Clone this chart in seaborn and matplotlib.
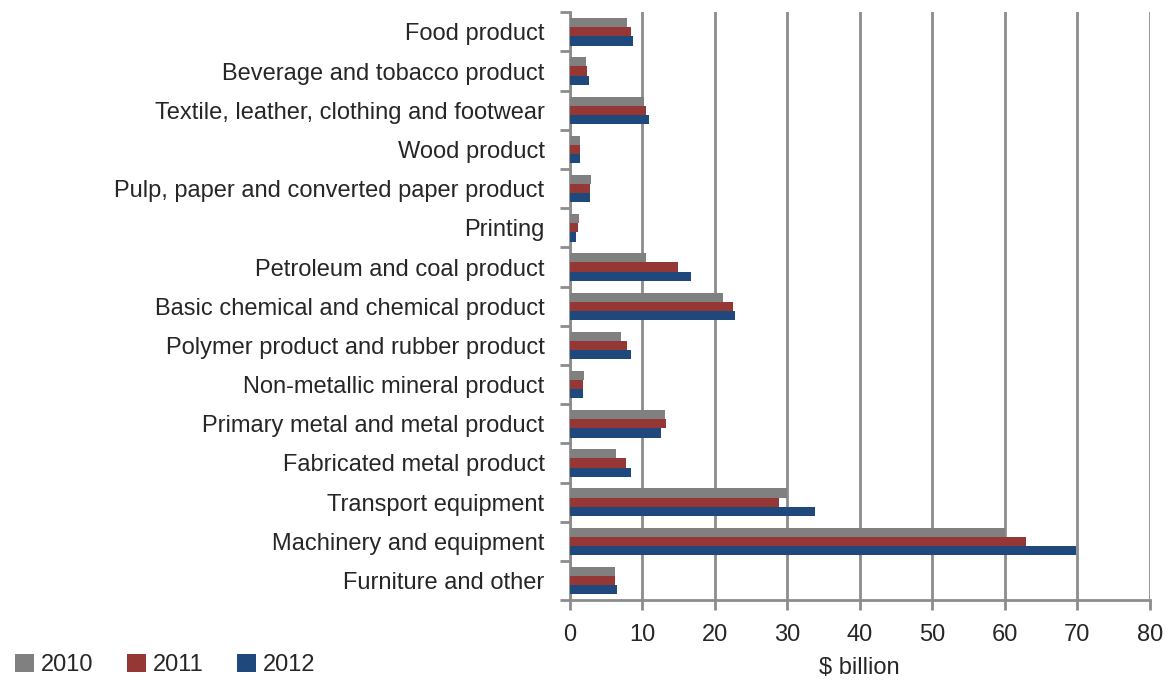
import numpy as np
import pandas as pd
import matplotlib
matplotlib.use("Agg")
import matplotlib.pyplot as plt
import seaborn as sns

categories = [
    "Food product", "Beverage and tobacco product",
    "Textile, leather, clothing and footwear", "Wood product",
    "Pulp, paper and converted paper product", "Printing",
    "Petroleum and coal product", "Basic chemical and chemical product",
    "Polymer product and rubber product", "Non-metallic mineral product",
    "Primary metal and metal product", "Fabricated metal product",
    "Transport equipment", "Machinery and equipment", "Furniture and other",
]
years = ["2010", "2011", "2012"]
v2010 = [7.9, 2.2, 10.2, 1.4, 3.0, 1.3, 10.6, 21.1, 7.1, 2.0, 13.2, 6.4, 30.0, 60.0, 6.3]
v2011 = [8.4, 2.4, 10.5, 1.4, 2.8, 1.1, 15.0, 22.5, 7.9, 1.8, 13.3, 7.8, 28.9, 63.0, 6.3]
v2012 = [8.7, 2.7, 11.0, 1.4, 2.8, 0.9, 16.8, 22.8, 8.4, 1.9, 12.6, 8.5, 33.9, 69.8, 6.6]
colors = ["#808080", "#953735", "#1F497D"]

df = pd.DataFrame({"category": categories * 3,
                   "year": np.repeat(years, len(categories)),
                   "value": v2010 + v2011 + v2012})

sns.set_style("white")
plt.rcParams["font.family"] = ["Liberation Sans", "DejaVu Sans"]

fig = plt.figure(figsize=(11.72, 6.82), dpi=100)
ax = fig.add_axes([0.486, 0.12, 0.495, 0.862])
sns.barplot(data=df, y="category", x="value", hue="year", orient="h",
            palette=colors, saturation=1, width=0.7, ax=ax, legend=True,
            edgecolor="none", zorder=3)

ax.set_xlim(0, 80)
ax.set_xticks(range(0, 81, 10))
ax.set_ylim(len(categories) - 0.5, -0.5)
ax.grid(axis="x", color="#8C8C8C", linewidth=2, zorder=0)
ax.grid(axis="y", visible=False)
for s in ["top", "right"]:
    ax.spines[s].set_visible(False)
for s in ["left", "bottom"]:
    ax.spines[s].set_color("#8C8C8C")
    ax.spines[s].set_linewidth(2)
ax.set_yticks(np.arange(-0.5, len(categories), 1), minor=True)
ax.tick_params(axis="y", which="major", length=0, labelsize=17, pad=18)
ax.tick_params(axis="y", which="minor", length=7, width=2, color="#8C8C8C", left=True)
ax.tick_params(axis="x", which="major", length=7, width=2, color="#8C8C8C",
               bottom=True, labelsize=17, pad=10)
ax.set_ylabel("")
ax.set_xlabel("$ billion", fontsize=17, labelpad=8)

handles, labels = ax.get_legend_handles_labels()
ax.legend_.remove()
fig.legend(handles, labels, loc="lower left", bbox_to_anchor=(-0.005, -0.022), ncol=3,
           frameon=False, fontsize=17, handlelength=0.8, handleheight=0.8,
           handletextpad=0.3, columnspacing=1.4)

fig.savefig("out.png", dpi=100)
